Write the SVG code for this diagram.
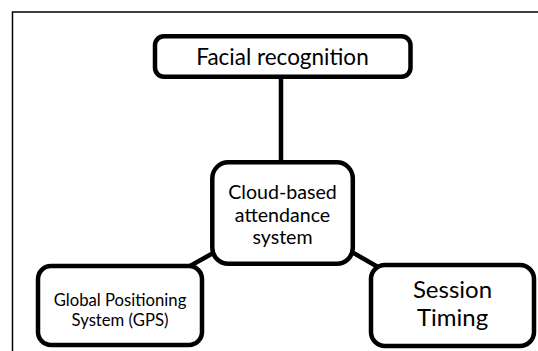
<svg xmlns="http://www.w3.org/2000/svg" width="538" height="351" viewBox="0 0 538 351">
<style>
.box{fill:#fff;stroke:#000;stroke-width:4.5}
.t{font-family:Lato,"Open Sans","Liberation Sans",sans-serif;fill:#000;text-anchor:middle}
.c{stroke:#000;stroke-width:4.5;fill:none}
</style>
<rect x="0" y="0" width="538" height="351" fill="#fff"/>
<path d="M12.5 351 V12 H538" fill="none" stroke="#000" stroke-width="1.5"/>
<g id="connectors">
<line class="c" x1="281" y1="76" x2="281" y2="165"/>
<line class="c" x1="190" y1="266" x2="215" y2="252"/>
<line class="c" x1="350" y1="251" x2="378" y2="267"/>
</g>
<g id="facial">
<rect class="box" x="155" y="36.3" width="255.5" height="40.5" rx="9"/>
<text class="t" x="282.5" y="64.5" font-size="22.5">Facial recognition</text>
</g>
<g id="cloud">
<rect class="box" x="212.3" y="162.3" width="140.5" height="101.5" rx="16"/>
<text class="t" font-size="19.6"><tspan x="282.5" y="199">Cloud-based</tspan><tspan x="282.5" y="222">attendance</tspan><tspan x="282.5" y="244">system</tspan></text>
</g>
<g id="gps">
<rect class="box" x="38" y="266" width="164" height="79" rx="13"/>
<text class="t" font-size="16.7"><tspan x="120" y="306">Global Positioning</tspan><tspan x="120" y="326">System (GPS)</tspan></text>
</g>
<g id="session">
<rect class="box" x="371" y="265" width="163" height="81" rx="14"/>
<text class="t" font-size="24"><tspan x="452.5" y="298">Session</tspan><tspan x="452.5" y="326">Timing</tspan></text>
</g>
</svg>
